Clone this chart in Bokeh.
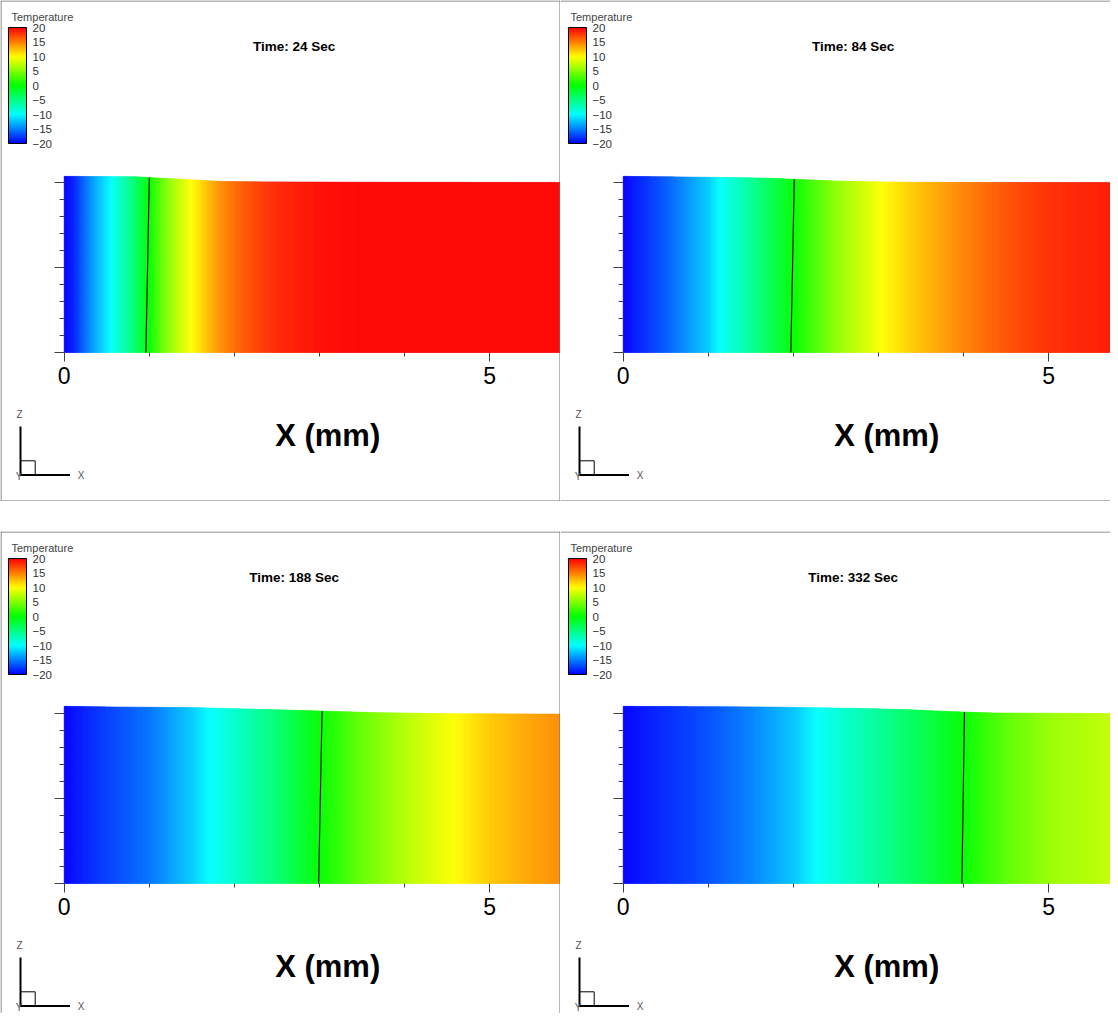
import numpy as np
from bokeh.plotting import figure
from bokeh.models import (Range1d, FixedTicker, ColorBar, LinearColorMapper,
                          ColumnDataSource, Spacer)
from bokeh.layouts import row, column
from bokeh.embed import file_html
from bokeh.resources import INLINE
from bokeh.core.properties import value

# ---------------- data ----------------
times = [24, 84, 188, 332]

# temperature along x (mm) for each time
t24_x = [0, 0.1, 0.33, 0.55, 0.8, 1.0, 1.2, 1.5, 1.8, 2.1, 2.5, 3.0, 3.5, 4.0, 6.0]
t24_T = [-20, -19, -14, -10, -5, 0, 5, 10, 14, 16.5, 18.5, 19.5, 19.9, 20, 20]

t84_x = [0, 0.5, 1.0, 1.13, 1.5, 2.0, 2.5, 3.05, 3.5, 4.0, 4.5, 5.0, 6.0]
t84_T = [-20, -16.5, -12, -10, -6, 0, 5.5, 10, 12.5, 14.8, 16.8, 18.2, 19.4]

t188_x = [0, 0.5, 1.0, 1.5, 1.7, 2.0, 2.5, 3.0, 3.5, 4.0, 4.6, 5.0, 5.5, 6.0]
t188_T = [-20, -17.6, -15.5, -12, -10, -8, -4.5, 0, 3.9, 7, 10, 12, 13.6, 14.8]

t332_x = [0, 0.5, 1.0, 1.5, 2.0, 2.27, 2.5, 3.0, 3.5, 4.0, 4.5, 5.0, 6.0]
t332_T = [-20, -18.4, -16.9, -14.9, -12.2, -10, -8.6, -5.9, -3.1, 0, 3.5, 5.9, 8.2]

# deformed top surface z (mm) along x (mm)
t24_topx = [0, 0.85, 1.0, 1.4, 1.85, 2.3, 3.8, 6.0]
t24_topz = [2.07, 2.065, 2.055, 2.035, 2.01, 2.005, 2.0, 1.998]
t84_topx = [0, 0.76, 1.43, 1.76, 2.01, 2.47, 2.81, 3.4, 6.0]
t84_topz = [2.07, 2.062, 2.054, 2.047, 2.035, 2.016, 2.008, 2.0, 1.996]
t188_topx = [0, 0.59, 1.55, 2.02, 2.58, 3.0, 3.65, 4.46, 6.0]
t188_topz = [2.082, 2.074, 2.066, 2.054, 2.039, 2.027, 2.008, 1.996, 1.99]
t332_topx = [0, 1.68, 2.77, 3.35, 3.68, 4.07, 4.36, 6.0]
t332_topz = [2.082, 2.074, 2.058, 2.043, 2.027, 2.012, 2.004, 1.996]

# freezing front (x at bottom, x at top), mm
front_bottom = [0.96, 1.97, 2.99, 3.98]
front_top = [1.0, 2.01, 3.03, 4.01]

temp_ticks = [-20, -15, -10, -5, 0, 5, 10, 15, 20]
x_major = [0, 5]
x_minor = [1, 2, 3, 4]
z_major = [0, 1, 2]
z_minor = [0.2, 0.4, 0.6, 0.8, 1.2, 1.4, 1.6, 1.8]

# rainbow colour map anchors
cmap_T = [-20, -10, 0, 10, 20]
cmap_R = [0, 0, 0, 255, 255]
cmap_G = [0, 255, 255, 255, 0]
cmap_B = [255, 255, 0, 0, 0]

levels = np.linspace(-20, 20, 256)
palette = ["#%02x%02x%02x" % (int(round(np.interp(v, cmap_T, cmap_R))),
                              int(round(np.interp(v, cmap_T, cmap_G))),
                              int(round(np.interp(v, cmap_T, cmap_B)))) for v in levels]
mapper = LinearColorMapper(palette=palette, low=-20, high=20)

# ---------------- layout helpers ----------------
SCALE = 85.1      # px per mm
X0_PX = 63.7      # local px of x = 0
Y0_PX = 352.0     # local px of z = 0
FONT = "Liberation Sans"
BORDER = "#6e6e6e"


def xd(px):
    return (px - X0_PX) / SCALE


def yd(py):
    return (Y0_PX - py) / SCALE


def make_panel(t, xs, Ts, topx, topz, fb, ft, W, H, left_px, borders):
    p = figure(width=W, height=H,
               x_range=Range1d(xd(left_px), xd(left_px + W)),
               y_range=Range1d(yd(H), yd(0)),
               output_backend="svg", toolbar_location=None,
               min_border=0, min_border_left=0, min_border_right=0,
               min_border_top=0, min_border_bottom=0)
    p.outline_line_color = None
    p.grid.visible = False
    p.background_fill_color = "white"
    p.border_fill_color = "white"

    # temperature field
    edges = np.arange(0, 6.0 + 1e-9, 1.0 / SCALE)
    left = edges[:-1]
    right = edges[1:]
    xc = 0.5 * (left + right)
    src = ColumnDataSource(dict(left=left, right=right,
                                bottom=np.zeros_like(xc),
                                top=np.interp(xc, topx, topz),
                                T=np.interp(xc, xs, Ts)))
    p.quad(left="left", right="right", bottom="bottom", top="top", source=src,
           fill_color={"field": "T", "transform": mapper},
           line_color={"field": "T", "transform": mapper}, line_width=0.6)

    # freezing front
    p.line(x=[fb, ft], y=[0, float(np.interp(ft, topx, topz))],
           line_color="black", line_width=1.1)

    # axes
    xa = p.xaxis[0]
    xa.fixed_location = 0
    xa.ticker = FixedTicker(ticks=x_major, minor_ticks=x_minor)
    xa.bounds = (0, 6.0)
    xa.axis_line_color = None
    xa.major_tick_in = 0
    xa.major_tick_out = 9
    xa.minor_tick_in = 0
    xa.minor_tick_out = 4
    xa.major_tick_line_color = "#404040"
    xa.minor_tick_line_color = "#404040"
    xa.major_label_text_font = FONT
    xa.major_label_text_font_size = "23px"
    xa.major_label_text_color = "black"
    xa.major_label_standoff = 5

    ya = p.yaxis[0]
    ya.fixed_location = 0
    ya.ticker = FixedTicker(ticks=z_major, minor_ticks=z_minor)
    ya.bounds = (0, 2)
    ya.axis_line_color = None
    ya.major_tick_in = 0
    ya.major_tick_out = 10
    ya.minor_tick_in = 0
    ya.minor_tick_out = 5
    ya.major_tick_line_color = "#404040"
    ya.minor_tick_line_color = "#404040"
    ya.major_label_overrides = {0: "", 1: "", 2: ""}

    # axis title
    p.text(x=[xd(327.2)], y=[yd(435.3)], text=["X (mm)"],
           text_font=value(FONT), text_font_style="bold", text_font_size="31px",
           text_align="center", text_baseline="alphabetic", text_color="black")

    # legend (location is measured from the bottom of the frame)
    cb = ColorBar(color_mapper=mapper, ticker=FixedTicker(ticks=temp_ticks),
                  width=18, height=116, location=(8, H - 143), orientation="vertical",
                  major_label_text_font=FONT, major_label_text_font_size="11.5px",
                  major_label_text_color="#333333", label_standoff=6,
                  padding=0, margin=0, background_fill_color=None,
                  border_line_color=None, bar_line_color="black",
                  major_tick_line_color=None, minor_tick_line_color=None)
    p.add_layout(cb)
    p.text(x=[xd(11)], y=[yd(16.7)], text=["Temperature"],
           text_font=value(FONT), text_font_size="11px",
           text_align="left", text_baseline="alphabetic", text_color="#444444")

    # time stamp
    p.text(x=[xd(293.7)], y=[yd(46)], text=[f"Time: {t} Sec"],
           text_font=value(FONT), text_font_style="bold", text_font_size="13.5px",
           text_align="center", text_baseline="middle", text_color="black")

    # axis triad
    p.line(x=[xd(20), xd(20), xd(69.5)], y=[yd(426), yd(474.5), yd(474.5)],
           line_color="black", line_width=2)
    p.line(x=[xd(20), xd(34.7), xd(34.7)], y=[yd(460.3), yd(460.3), yd(474.5)],
           line_color="black", line_width=1)
    p.text(x=[xd(19), xd(80.5), xd(18.5)], y=[yd(413.5), yd(475), yd(476)],
           text=["Z", "X", "Y"], text_font=value(FONT), text_font_size="10px",
           text_align="center", text_baseline="middle", text_color="#555555")

    # frame borders (local px)
    segs = []
    if "top" in borders:
        segs.append((left_px, 0.5, left_px + W, 0.5))
    if "bottom" in borders:
        segs.append((left_px, H - 0.5, left_px + W, H - 0.5))
    if "left" in borders:
        segs.append((left_px + 0.5, 0, left_px + 0.5, H))
    if "right" in borders:
        segs.append((left_px + W - 0.5, 0, left_px + W - 0.5, H))
    if segs:
        p.segment(x0=[xd(s[0]) for s in segs], y0=[yd(s[1]) for s in segs],
                  x1=[xd(s[2]) for s in segs], y1=[yd(s[3]) for s in segs],
                  line_color=BORDER, line_width=1)
    return p


TOP_H = 501
BOT_H = 482
p1 = make_panel(times[0], t24_x, t24_T, t24_topx, t24_topz, front_bottom[0], front_top[0],
                560, TOP_H, 0, ["top", "bottom", "left", "right"])
p2 = make_panel(times[1], t84_x, t84_T, t84_topx, t84_topz, front_bottom[1], front_top[1],
                550, TOP_H, 1, ["top", "bottom"])
p3 = make_panel(times[2], t188_x, t188_T, t188_topx, t188_topz, front_bottom[2], front_top[2],
                560, BOT_H, 0, ["top", "left", "right"])
p4 = make_panel(times[3], t332_x, t332_T, t332_topx, t332_topz, front_bottom[3], front_top[3],
                550, BOT_H, 1, ["top"])

layout = column(row(p1, p2, spacing=0), Spacer(height=30, width=10), row(p3, p4, spacing=0),
                spacing=0)

open("out.html", "w").write(file_html(layout, INLINE, title="Freezing front"))
